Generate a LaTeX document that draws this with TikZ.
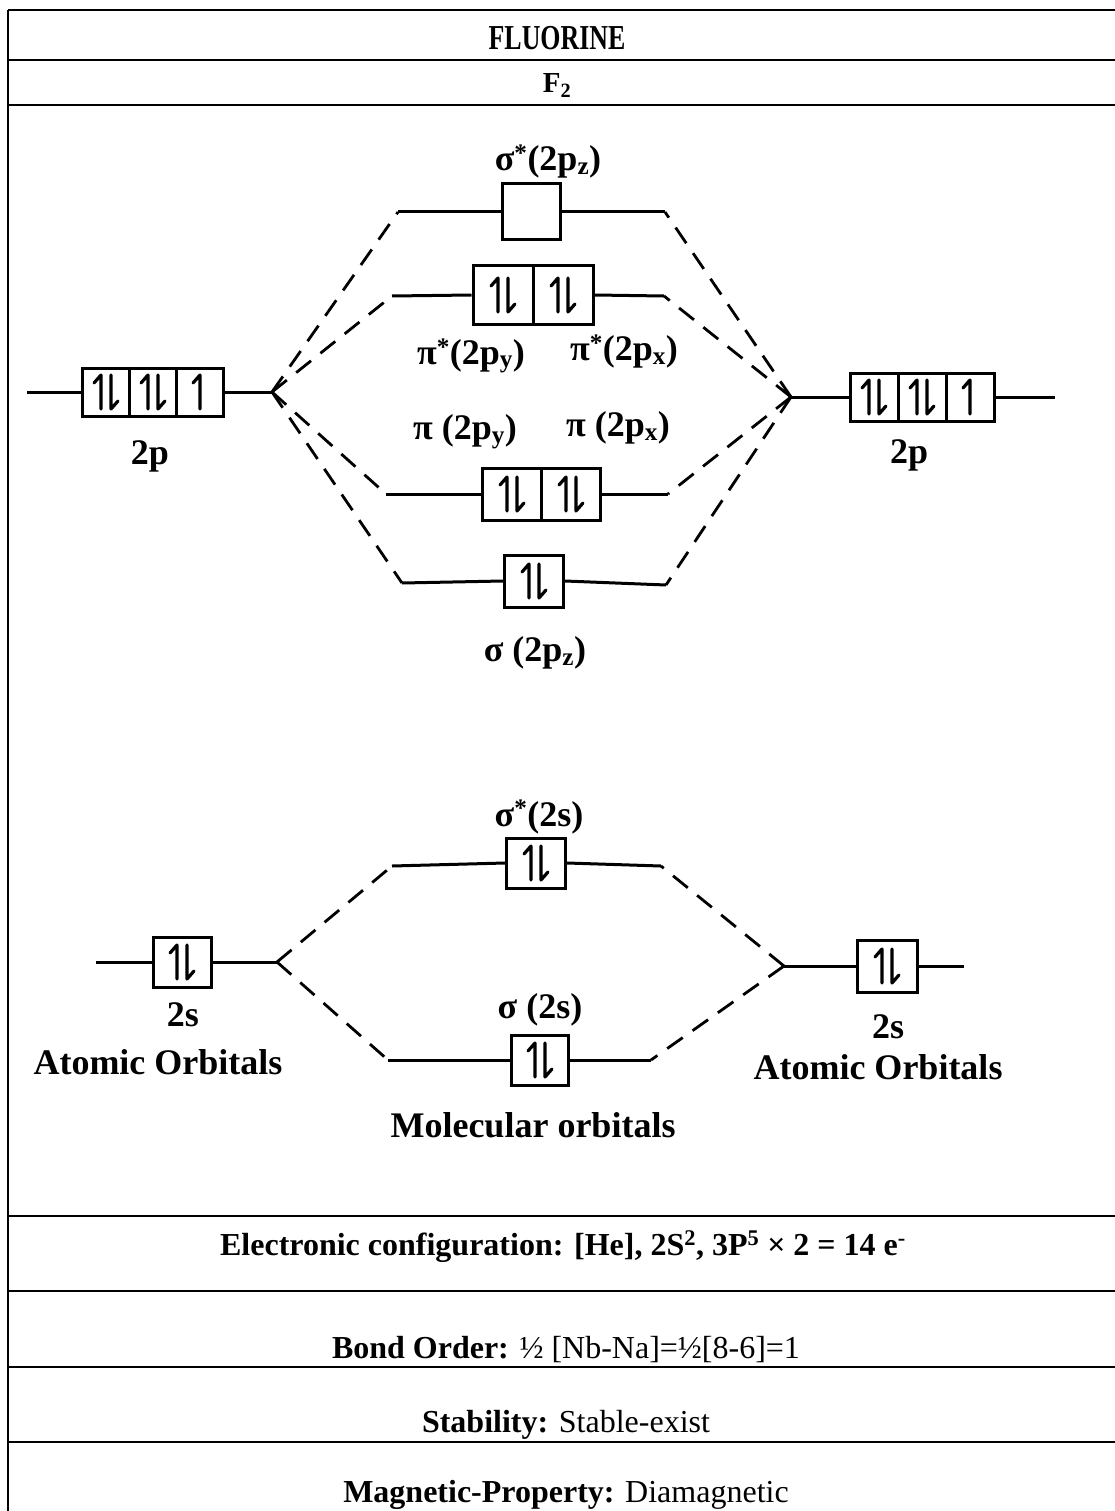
\documentclass[tikz,border=0pt]{standalone}
\usepackage{fontspec}
\setmainfont{Liberation Serif}
\begin{document}
\begin{tikzpicture}[x=1pt,y=-1pt,
  tline/.style={line width=2pt},
  cell/.style n args={2}{draw, line width=3pt, inner sep=0pt, minimum width=#1, minimum height=#2},
  lvl/.style={line width=3pt},
  dsh/.style={line width=2.8pt, dash pattern=on 19pt off 12pt},
  spin/.style={line width=3.2pt, line cap=round, line join=round},
  lbl/.style={font=\fontsize{36}{40}\selectfont\bfseries, inner sep=0pt},
  rowtxt/.style={font=\fontsize{32}{38}\selectfont, inner sep=0pt, anchor=base},
  pics/pair/.style={code={
    \draw[spin] (-5,17) -- (-5,-17) -- (-12,-9);
    \draw[spin] (5,-17) -- (5,17) -- (12,9);
  }},
  pics/single/.style={code={
    \draw[spin] (0,17) -- (0,-17) -- (-7,-9);
  }}
]
\useasboundingbox (0,0) rectangle (1115,1511);
\fill[white] (0,0) rectangle (1115,1511);

% ---------- table frame ----------
\draw[tline] (8,10) -- (8,1511);
\draw[tline] (8,10) -- (1115,10);
\draw[tline] (8,60) -- (1115,60);
\draw[tline] (8,105) -- (1115,105);
\draw[tline] (8,1216) -- (1115,1216);
\draw[tline] (8,1291) -- (1115,1291);
\draw[tline] (8,1367) -- (1115,1367);
\draw[tline] (8,1442) -- (1115,1442);

% ---------- headings ----------
\node[font=\fontsize{35}{38}\selectfont\bfseries, anchor=base, inner sep=0pt] (title) at (557,50) {\scalebox{0.74}[1]{FLUORINE}};
\node[font=\fontsize{29}{34}\selectfont\bfseries, anchor=base, inner sep=0pt] (mol) at (557,93) {F\textsubscript{2}};

% ---------- 2p atomic orbitals ----------
\node[cell={47pt}{48pt}] (L2p1) at (106,392) {};
\node[cell={47pt}{48pt}] (L2p2) at (153,392) {};
\node[cell={47pt}{48pt}] (L2p3) at (200,392) {};
\pic at (L2p1) {pair};
\pic at (L2p2) {pair};
\pic at (L2p3) {single};
\coordinate (L2pA) at (27,392);
\coordinate (L2pJ) at (272,392);
\draw[lvl] (L2pA) -- (L2p1.west);
\draw[lvl] (L2p3.east) -- (L2pJ);

\node[cell={48pt}{48pt}] (R2p1) at (874,397) {};
\node[cell={48pt}{48pt}] (R2p2) at (922,397) {};
\node[cell={48pt}{48pt}] (R2p3) at (970,397) {};
\pic at (R2p1) {pair};
\pic at (R2p2) {pair};
\pic at (R2p3) {single};
\coordinate (R2pJ) at (791,397);
\coordinate (R2pB) at (1055,397);
\draw[lvl] (R2pJ) -- (R2p1.west);
\draw[lvl] (R2p3.east) -- (R2pB);

% ---------- 2p molecular orbitals ----------
% sigma* (2pz)
\node[cell={58pt}{56pt}] (Ss) at (531,212) {};
\coordinate (SsL) at (398,212);
\coordinate (SsR) at (665,212);
\draw[lvl] (SsL) -- (Ss.west);
\draw[lvl] (Ss.east) -- (SsR);
% pi*
\node[cell={60pt}{58pt}] (Ps1) at (503,295) {};
\node[cell={60pt}{58pt}] (Ps2) at (563,295) {};
\pic at (Ps1) {pair};
\pic at (Ps2) {pair};
\coordinate (PsL) at (392,296);
\coordinate (PsR) at (664,296);
\draw[lvl] (PsL) -- (Ps1.west);
\draw[lvl] (Ps2.east) -- (PsR);
% pi
\node[cell={59pt}{52pt}] (P1) at (512,494) {};
\node[cell={59pt}{52pt}] (P2) at (571,494) {};
\pic at (P1) {pair};
\pic at (P2) {pair};
\coordinate (PL) at (386,494);
\coordinate (PR) at (668,494);
\draw[lvl] (PL) -- (P1.west);
\draw[lvl] (P2.east) -- (PR);
% sigma (2pz)
\node[cell={59pt}{52pt}] (S) at (534,581) {};
\pic at (S) {pair};
\coordinate (SL) at (402,583);
\coordinate (SR) at (666,585);
\draw[lvl] (SL) -- (S.west);
\draw[lvl] (S.east) -- (SR);

% correlation lines 2p
\draw[dsh] (L2pJ) -- (SsL);
\draw[dsh] (L2pJ) -- (PsL);
\draw[dsh] (L2pJ) -- (PL);
\draw[dsh] (L2pJ) -- (SL);
\draw[dsh] (R2pJ) -- (SsR);
\draw[dsh] (R2pJ) -- (PsR);
\draw[dsh] (R2pJ) -- (PR);
\draw[dsh] (R2pJ) -- (SR);

% ---------- 2s ----------
\node[cell={58pt}{50pt}] (L2s) at (182,962) {};
\pic at (L2s) {pair};
\coordinate (L2sA) at (96,962);
\coordinate (L2sJ) at (277,962);
\draw[lvl] (L2sA) -- (L2s.west);
\draw[lvl] (L2s.east) -- (L2sJ);

\node[cell={60pt}{52pt}] (R2s) at (887,966) {};
\pic at (R2s) {pair};
\coordinate (R2sJ) at (784,966);
\coordinate (R2sB) at (964,966);
\draw[lvl] (R2sJ) -- (R2s.west);
\draw[lvl] (R2s.east) -- (R2sB);

\node[cell={59pt}{50pt}] (Ss2) at (536,863) {};
\pic at (Ss2) {pair};
\coordinate (Ss2L) at (392,866);
\coordinate (Ss2R) at (661,866);
\draw[lvl] (Ss2L) -- (Ss2.west);
\draw[lvl] (Ss2.east) -- (Ss2R);

\node[cell={57pt}{50pt}] (S2) at (540,1060) {};
\pic at (S2) {pair};
\coordinate (S2L) at (388,1060);
\coordinate (S2R) at (651,1060);
\draw[lvl] (S2L) -- (S2.west);
\draw[lvl] (S2.east) -- (S2R);

\draw[dsh] (L2sJ) -- (Ss2L);
\draw[dsh] (L2sJ) -- (S2L);
\draw[dsh] (R2sJ) -- (Ss2R);
\draw[dsh] (R2sJ) -- (S2R);

% ---------- labels ----------
\node[lbl] (lSs) at (548,162) {σ\textsuperscript{*}(2p\textsubscript{z})};
\node[lbl] (lPsy) at (471,356) {π\textsuperscript{*}(2p\textsubscript{y})};
\node[lbl] (lPsx) at (624,352) {π\textsuperscript{*}(2p\textsubscript{x})};
\node[lbl] (lPy) at (465,432) {π (2p\textsubscript{y})};
\node[lbl] (lPx) at (618,428) {π (2p\textsubscript{x})};
\node[lbl] (lS) at (535,653) {σ (2p\textsubscript{z})};
\node[lbl] (lL2p) at (150,456) {2p};
\node[lbl] (lR2p) at (909,455) {2p};
\node[lbl] (lSs2) at (539,817) {σ\textsuperscript{*}(2s)};
\node[lbl] (lS2) at (540,1010) {σ (2s)};
\node[lbl] (lL2s) at (183,1015) {2s};
\node[lbl] (lLao) at (158,1062) {Atomic Orbitals};
\node[lbl] (lR2s) at (888,1027) {2s};
\node[lbl] (lRao) at (878,1067) {Atomic Orbitals};
\node[lbl] (lMO) at (533,1125) {Molecular orbitals};

% ---------- property rows ----------
\node[rowtxt] (ec) at (563,1255) {\bfseries Electronic configuration: [He], 2S\textsuperscript{2}, 3P\textsuperscript{5} × 2 = 14 e\textsuperscript{-}};
\node[rowtxt] (bo) at (566,1358) {\textbf{Bond Order:} ½ [Nb-Na]=½[8-6]=1};
\node[rowtxt] (st) at (566,1432) {\textbf{Stability:} Stable-exist};
\node[rowtxt] (mp) at (566,1502) {\textbf{Magnetic-Property:} Diamagnetic};
\end{tikzpicture}
\end{document}
